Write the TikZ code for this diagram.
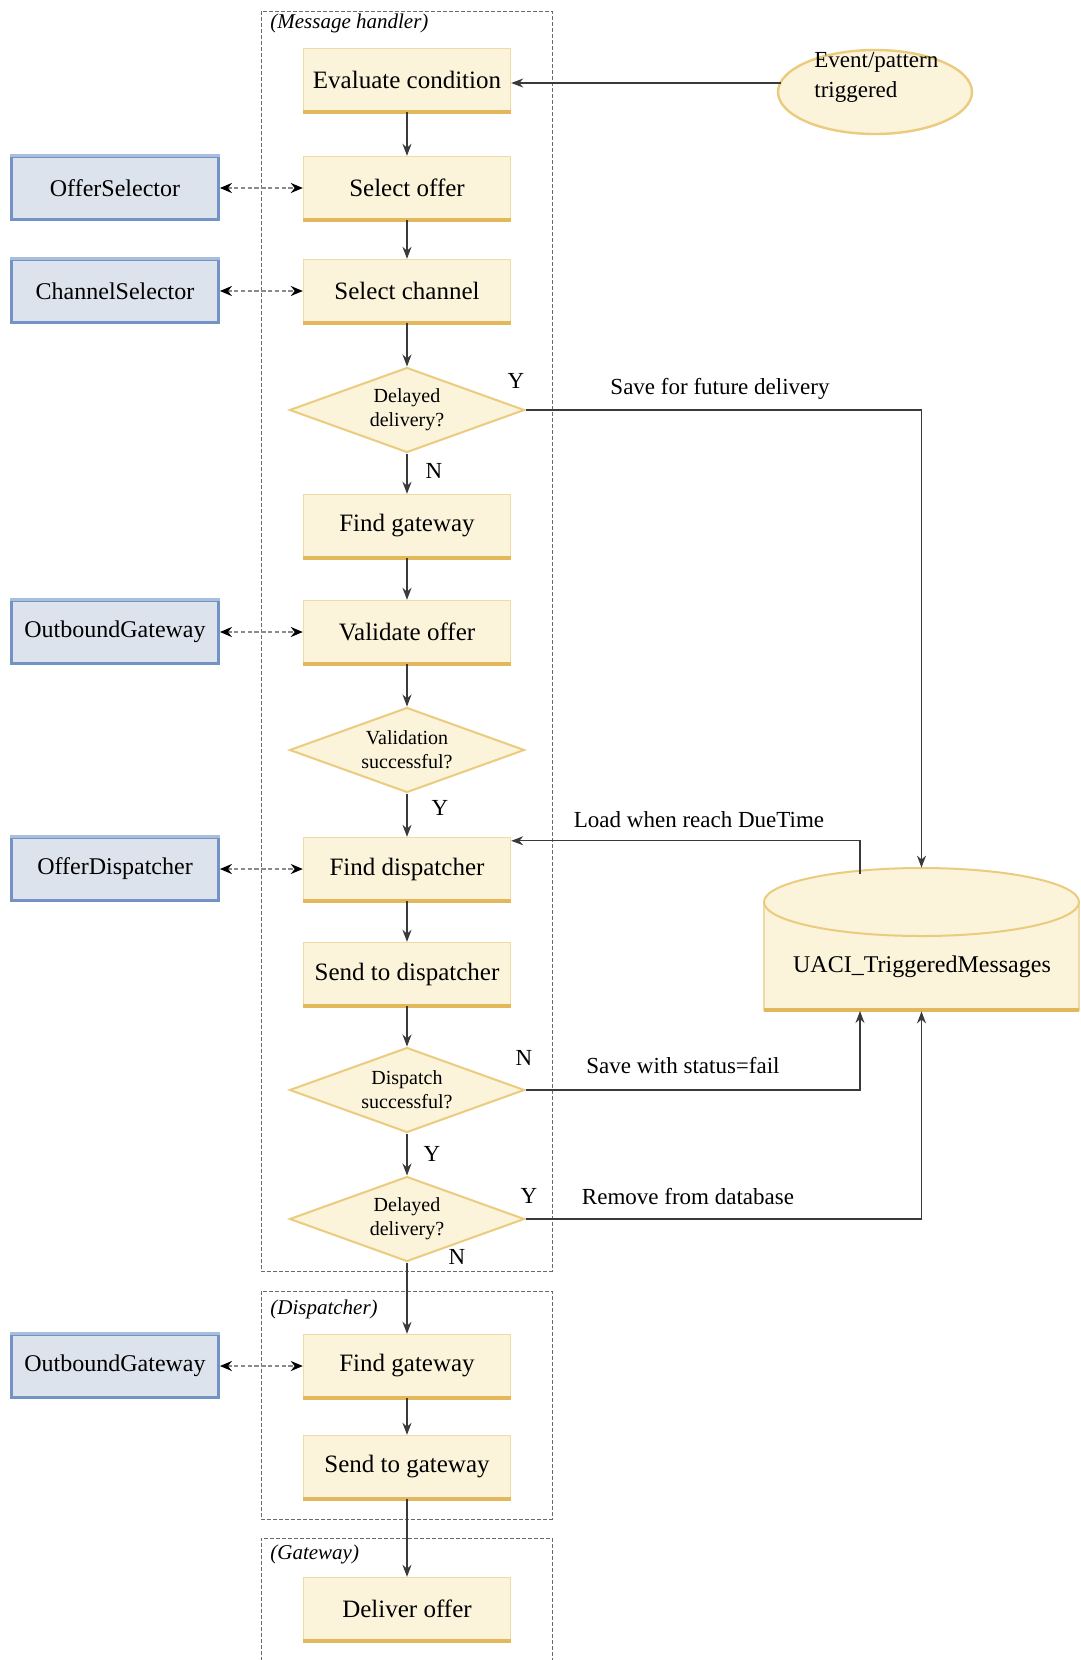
\documentclass[tikz,border=0pt]{standalone}
\usepackage{fontspec}
\setmainfont{Liberation Serif}
\usetikzlibrary{shapes.geometric,arrows.meta,calc}
\definecolor{yfill}{HTML}{FBF3DA}
\definecolor{yedge}{HTML}{EEDBA4}
\definecolor{ybot}{HTML}{E3B85A}
\definecolor{ydia}{HTML}{EBCB7E}
\definecolor{bfill}{HTML}{DDE3EC}
\definecolor{bedge}{HTML}{A9BEDB}
\definecolor{bdark}{HTML}{7393C4}
\definecolor{lin}{HTML}{3A3A3A}
\definecolor{dashgray}{HTML}{8A8A8A}
\definecolor{grpc}{HTML}{6A6A6A}
\begin{document}
\begin{tikzpicture}[x=0.5pt,y=-0.5pt,
  ybox/.style={rectangle, draw=yedge, fill=yfill, line width=0.7pt,
    minimum width=103.5pt, minimum height=31.5pt, inner sep=0pt,
    font=\fontsize{12.5}{14}\selectfont,
    append after command={(\tikzlastnode.south west) edge[draw=ybot, line width=1.8pt] (\tikzlastnode.south east)}},
  bbox/.style={rectangle, draw=bdark, fill=bfill, line width=1.4pt,
    minimum width=103.5pt, minimum height=31.5pt, inner sep=0pt,
    font=\fontsize{12}{14}\selectfont,
    append after command={(\tikzlastnode.north west) edge[draw=bedge, line width=1.4pt] (\tikzlastnode.north east)}},
  ydiam/.style={diamond, aspect=2.76, draw=ydia, fill=yfill, line width=1pt,
    minimum width=117.5pt, minimum height=42.5pt, inner sep=0pt, align=center,
    font=\fontsize{10}{12}\selectfont},
  yell/.style={ellipse, draw=ydia, fill=yfill, line width=1.2pt,
    minimum width=97pt, minimum height=42pt, inner sep=0pt},
  conn/.style={draw=lin, line width=0.6pt, -{Stealth[length=6pt,width=4.5pt]}},
  dconn/.style={draw=dashgray, line width=1.1pt, dash pattern=on 2.2pt off 1.2pt,
    {Stealth[length=6pt,width=5pt,color=black]}-{Stealth[length=6pt,width=5pt,color=black]}},
  grp/.style={draw=grpc, line width=0.5pt, dash pattern=on 2pt off 1pt},
  glabel/.style={anchor=west, inner sep=0pt, font=\fontsize{10.5}{12}\selectfont\itshape},
  lab/.style={inner sep=0pt, font=\fontsize{11.5}{13}\selectfont}
]
\useasboundingbox (0,0) rectangle (1081,1660);

% group frames
\draw[grp] (261,11) rectangle (552,1271);
\draw[grp] (261,1291) rectangle (552,1519);
\draw[grp] (552,1680) -- (552,1538) -- (261,1538) -- (261,1680);
\node[glabel] (gl1) at (270,23) {(Message handler)};
\node[glabel] (gl2) at (270,1309) {(Dispatcher)};
\node[glabel] (gl3) at (270,1554) {(Gateway)};

% main flow
\node[ybox] (eval) at (407,80) {Evaluate condition};
\node[ybox] (selo) at (407,188) {Select offer};
\node[ybox] (selc) at (407,291) {Select channel};
\node[ydiam] (dd1) at (407,410) {Delayed\\delivery?};
\node[ybox] (fg1) at (407,526) {Find gateway};
\node[ybox] (vo) at (407,632) {Validate offer};
\node[ydiam] (vs) at (407,750) {Validation\\successful?};
\node[ybox] (fd) at (407,869) {Find dispatcher};
\node[ybox] (sd) at (407,974) {Send to dispatcher};
\node[ydiam] (ds) at (407,1090) {Dispatch\\successful?};
\node[ydiam] (dd2) at (407,1219) {Delayed\\delivery?};
\node[ybox] (fg2) at (407,1366) {Find gateway};
\node[ybox] (sg) at (407,1467) {Send to gateway};
\node[ybox] (dlv) at (407,1609) {Deliver offer};

% side components
\node[bbox] (os) at (115,188) {OfferSelector};
\node[bbox] (cs) at (115,291) {ChannelSelector};
\node[bbox] (og1) at (115,632) {OutboundGateway};
\node[bbox] (odp) at (115,869) {OfferDispatcher};
\node[bbox] (og2) at (115,1366) {OutboundGateway};

% event ellipse
\node[yell] (ev) at (875,92) {};
\node[anchor=west, align=left, inner sep=0pt, font=\fontsize{11.5}{15}\selectfont] (evt) at (814,77) {Event/pattern\\triggered};

% database cylinder
\node[rectangle, minimum width=157.5pt, minimum height=71.5pt, inner sep=0pt] (db) at (921.5,939.5) {};
\fill[yfill] (764,902) rectangle (1079,1011);
\draw[yedge, line width=1pt] (764,902) -- (764,1011);
\draw[yedge, line width=1pt] (1079,902) -- (1079,1011);
\draw[ybot, line width=2pt] (764,1010) -- (1079,1010);
\draw[ydia, fill=yfill, line width=1pt] (921.5,902) ellipse [x radius=157.5, y radius=34];
\node[lab, font=\fontsize{12}{14}\selectfont] (dbt) at (922,967) {UACI\_TriggeredMessages};

% main vertical connectors
\draw[conn] (eval) -- (selo);
\draw[conn] (selo) -- (selc);
\draw[conn] (selc) -- (dd1);
\draw[conn] (dd1) -- (fg1);
\draw[conn] (fg1) -- (vo);
\draw[conn] (vo) -- (vs);
\draw[conn] (vs) -- (fd);
\draw[conn] (fd) -- (sd);
\draw[conn] (sd) -- (ds);
\draw[conn] (ds) -- (dd2);
\draw[conn] (dd2) -- (fg2);
\draw[conn] (fg2) -- (sg);
\draw[conn] (sg) -- (dlv);

% event to evaluate
\draw[conn] ($(eval.east -| ev.west)+(4,3)$) -- ($(eval.east)+(0,3)$);

% side dashed connectors
\draw[dconn] (os) -- (selo);
\draw[dconn] (cs) -- (selc);
\draw[dconn] (og1) -- (vo);
\draw[dconn] (odp) -- (fd);
\draw[dconn] (og2) -- (fg2);

% database connectors
\coordinate (ldp) at (860,874);
\coordinate (sfb) at (860,1011);
\draw[conn] (dd1.east) -| (db.north);
\draw[conn] (ldp) |- ($(fd.north east)+(0,4)$);
\draw[conn] (ds.east) -| (sfb);
\draw[conn] (dd2.east) -| (db.south);

% labels
\node[lab] (y1) at (516,381) {Y};
\node[lab] (t1) at (720,389) {Save for future delivery};
\node[lab] (n1) at (434,471) {N};
\node[lab] (y2) at (440,808) {Y};
\node[lab] (t2) at (699,820) {Load when reach DueTime};
\node[lab] (n2) at (524,1058) {N};
\node[lab] (t3) at (683,1066) {Save with status=fail};
\node[lab] (y3) at (432,1154) {Y};
\node[lab] (y4) at (529,1196) {Y};
\node[lab] (t4) at (688,1196) {Remove from database};
\node[lab] (n3) at (457,1257) {N};
\end{tikzpicture}
\end{document}
